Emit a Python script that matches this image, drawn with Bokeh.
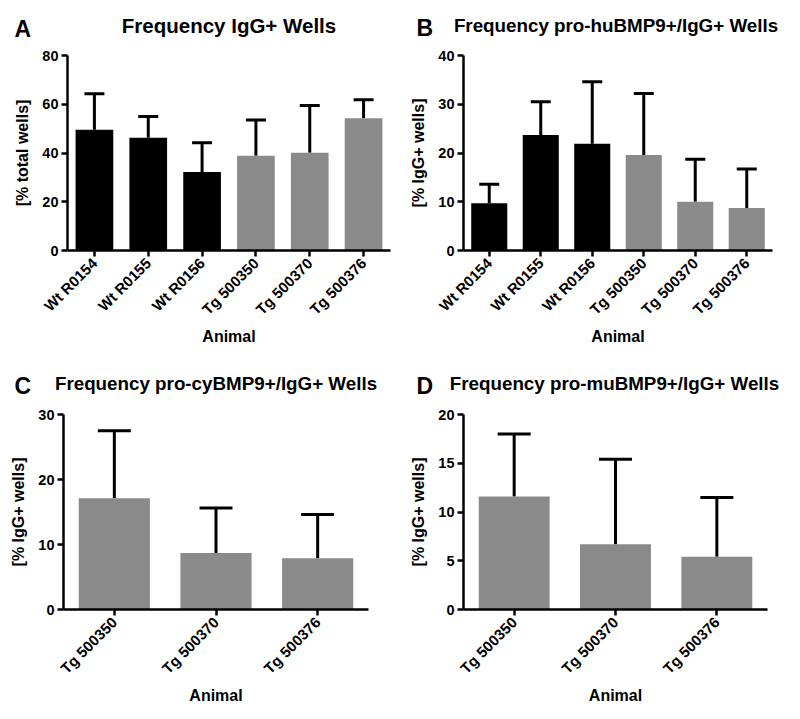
from bokeh.plotting import figure
from bokeh.models import ColumnDataSource, FixedTicker, Whisker, TeeHead, Range1d
from bokeh.core.properties import value
from bokeh.layouts import column, row
from bokeh.embed import file_html
from bokeh.resources import INLINE

animals_all = ["Wt R0154", "Wt R0155", "Wt R0156", "Tg 500350", "Tg 500370", "Tg 500376"]
animals_tg = ["Tg 500350", "Tg 500370", "Tg 500376"]

igg_mean = [49.5, 46.3, 32.2, 38.9, 40.1, 54.3]
igg_sd = [14.8, 8.7, 12.0, 14.6, 19.4, 7.5]

hu_mean = [9.7, 23.7, 21.9, 19.6, 10.0, 8.7]
hu_sd = [3.9, 6.8, 12.7, 12.6, 8.7, 8.0]

cy_mean = [17.1, 8.7, 7.9]
cy_sd = [10.4, 6.9, 6.7]

mu_mean = [11.6, 6.7, 5.4]
mu_sd = [6.4, 8.7, 6.1]

BLACK = "#000000"
GREY = "#8a8a8a"
FONT = "Liberation Sans"
HEAD_H = 45


def header(letter, title, width, letter_x, letter_y, title_x, title_y, title_size):
    """A strip above each panel that carries the panel letter and its title."""
    h = figure(width=width, height=HEAD_H, x_range=Range1d(0, width), y_range=Range1d(0, HEAD_H),
               x_axis_type=None, y_axis_type=None, output_backend="svg", toolbar_location=None,
               title_location=None, min_border=0, min_border_left=0, min_border_right=0,
               min_border_top=0, min_border_bottom=0)
    h.outline_line_color = None
    h.grid.grid_line_color = None
    h.text(x=[letter_x], y=[letter_y], text=[letter], text_align="left",
           text_baseline="middle", text_font=value(FONT), text_font_style="bold",
           text_font_size="23px", text_color="black")
    h.text(x=[title_x], y=[title_y], text=[title], text_align="center",
           text_baseline="middle", text_font=value(FONT), text_font_style="bold",
           text_font_size=title_size, text_color="black")
    return h


def panel(cats, means, sds, colors, ymax, yticks, ylabel,
          width, height, bl, br, bt, bb, cap):
    p = figure(x_range=cats, y_range=Range1d(0, ymax), width=width, height=height,
               output_backend="svg", toolbar_location=None, title_location=None,
               min_border_left=bl, min_border_right=br, min_border_top=bt, min_border_bottom=bb)
    p.outline_line_color = None
    p.xgrid.grid_line_color = None
    p.ygrid.grid_line_color = None
    p.x_range.range_padding = 0
    src = ColumnDataSource(dict(x=cats, top=means,
                                upper=[m + s for m, s in zip(means, sds)], color=colors))
    p.vbar(x="x", top="top", width=0.7, fill_color="color", line_color=None, source=src)
    w = Whisker(source=src, base="x", lower="top", upper="upper", dimension="height",
                line_width=3, line_color="black",
                upper_head=TeeHead(size=cap, line_width=3, line_color="black"),
                lower_head=None)
    p.add_layout(w)

    for ax in (p.xaxis[0], p.yaxis[0]):
        ax.axis_line_width = 2.5
        ax.axis_line_color = "black"
        ax.major_tick_line_width = 2.5
        ax.major_tick_line_color = "black"
        ax.major_tick_in = 0
        ax.major_tick_out = 6
        ax.minor_tick_line_color = None
        ax.major_label_text_font = FONT
        ax.major_label_text_font_style = "bold"
        ax.major_label_text_color = "black"
        ax.axis_label_text_font = FONT
        ax.axis_label_text_font_style = "bold"
        ax.axis_label_text_font_size = "16px"
        ax.axis_label_text_color = "black"
    p.yaxis.major_label_text_font_size = "14.5px"
    p.xaxis.major_label_text_font_size = "15px"
    p.yaxis.ticker = FixedTicker(ticks=yticks)
    p.yaxis.major_label_standoff = 3
    p.yaxis.axis_label = ylabel
    p.yaxis.axis_label_standoff = 8
    p.xaxis.major_label_orientation = 0.785398
    p.xaxis.major_label_standoff = 4
    p.xaxis.axis_label = "Animal"
    p.xaxis.axis_label_standoff = 1
    return p


cols6 = [BLACK, BLACK, BLACK, GREY, GREY, GREY]
cols3 = [GREY, GREY, GREY]

hA = header("A", "Frequency IgG+ Wells", 400, 14, 16.4, 228.5, 19.9, "20.5px")
hB = header("B", "Frequency pro-huBMP9+/IgG+ Wells", 396, 16, 17.4, 215.5, 20.3, "18.8px")
hC = header("C", "Frequency pro-cyBMP9+/IgG+ Wells", 400, 14, 19.1, 215.5, 22, "18.8px")
hD = header("D", "Frequency pro-muBMP9+/IgG+ Wells", 396, 16, 19.4, 214, 22, "18.8px")

pA = panel(animals_all, igg_mean, igg_sd, cols6, 80, [0, 20, 40, 60, 80], "[% total wells]",
           400, 315, 67, 10, 10, 110, 20)
pB = panel(animals_all, hu_mean, hu_sd, cols6, 40, [0, 10, 20, 30, 40], "[% IgG+ wells]",
           396, 315, 63, 24, 9, 110, 20)
pC = panel(animals_tg, cy_mean, cy_sd, cols3, 30, [0, 10, 20, 30], "[% IgG+ wells]",
           400, 312, 63, 32, 9, 107, 33)
pD = panel(animals_tg, mu_mean, mu_sd, cols3, 20, [0, 5, 10, 15, 20], "[% IgG+ wells]",
           396, 312, 63, 29, 8, 108, 33)

layout = column(row(hA, hB), row(pA, pB), row(hC, hD), row(pC, pD))
open("out.html", "w").write(file_html(layout, INLINE))
